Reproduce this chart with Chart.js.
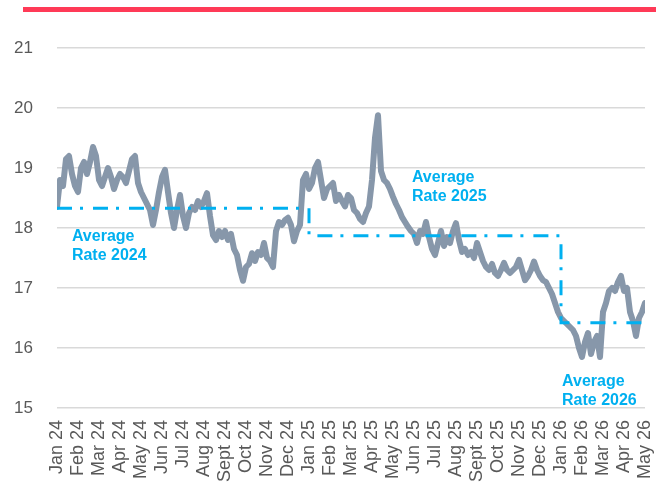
<!DOCTYPE html>
<html>
<head>
<meta charset="utf-8">
<script src="https://cdn.jsdelivr.net/npm/chart.js@4/dist/chart.umd.min.js"></script>
<style>
  html, body { margin: 0; padding: 0; background: #fff; }
  #wrap { position: relative; width: 656px; height: 489px; }
  #topBar { position: absolute; left: 23px; top: 7px; width: 633px; height: 5px; background: #ff3a57; }
  canvas { position: absolute; left: 0; top: 0; }
</style>
</head>
<body>
<div id="wrap">
  <div id="topBar"></div>
  <canvas id="rateChart" width="656" height="489"></canvas>
</div>
<script>
// month tick labels, one per month from Jan 24 to May 26
const monthLabels = [
  'Jan 24', 'Feb 24', 'Mar 24', 'Apr 24', 'May 24', 'Jun 24', 'Jul 24', 'Aug 24',
  'Sept 24', 'Oct 24', 'Nov 24', 'Dec 24', 'Jan 25', 'Feb 25', 'Mar 25', 'Apr 25',
  'May 25', 'Jun 25', 'Jul 25', 'Aug 25', 'Sept 25', 'Oct 25', 'Nov 25', 'Dec 25',
  'Jan 26', 'Feb 26', 'Mar 26', 'Apr 26', 'May 26'
];

// rate readings, 7 per month
const pointsPerMonth = 7;
const rateValues = [
  18.35, 18.8, 18.7, 19.15, 19.2, 18.9, 18.7, 18.6, 19.0, 19.1,
  18.9, 19.1, 19.35, 19.2, 18.8, 18.7, 18.85, 19.0, 18.85, 18.65,
  18.8, 18.9, 18.85, 18.75, 18.95, 19.15, 19.2, 18.75, 18.6, 18.5,
  18.4, 18.3, 18.05, 18.3, 18.6, 18.85, 18.97, 18.6, 18.25, 18.0,
  18.3, 18.55, 18.2, 18.0, 18.25, 18.35, 18.3, 18.45, 18.35, 18.45,
  18.58, 18.2, 17.88, 17.8, 17.95, 17.85, 17.95, 17.8, 17.9, 17.65,
  17.55, 17.3, 17.12, 17.35, 17.4, 17.58, 17.45, 17.6, 17.55, 17.75,
  17.5, 17.45, 17.35, 17.95, 18.1, 18.05, 18.13, 18.17, 18.05, 17.78,
  17.95, 18.05, 18.8, 18.9, 18.65, 18.75, 19.0, 19.1, 18.8, 18.5,
  18.65, 18.7, 18.75, 18.45, 18.55, 18.45, 18.36, 18.55, 18.5, 18.3,
  18.25, 18.15, 18.1, 18.25, 18.36, 18.8, 19.5, 19.88, 18.95, 18.8,
  18.75, 18.65, 18.52, 18.4, 18.3, 18.18, 18.1, 18.02, 17.95, 17.9,
  17.75, 17.95, 17.9, 18.1, 17.85, 17.65, 17.55, 17.75, 17.95, 17.7,
  17.85, 17.75, 17.95, 18.08, 17.8, 17.6, 17.65, 17.55, 17.6, 17.5,
  17.75, 17.6, 17.45, 17.35, 17.3, 17.4, 17.25, 17.2, 17.3, 17.42,
  17.3, 17.25, 17.3, 17.35, 17.47, 17.3, 17.13, 17.2, 17.3, 17.44,
  17.3, 17.2, 17.13, 17.1, 17.0, 16.9, 16.75, 16.6, 16.5, 16.45,
  16.4, 16.35, 16.3, 16.2, 16.0, 15.85, 16.1, 16.25, 15.9, 16.1,
  16.2, 15.85, 16.6, 16.75, 16.95, 17.0, 16.95, 17.1, 17.2, 16.95,
  17.0, 16.6, 16.45, 16.2, 16.5, 16.6, 16.75
];

// yearly averages: start month index (on the axis) and level
const avgYears = ['2024', '2025', '2026'];
const avgStartMonth = [0, 12, 24];
const avgRates = [18.33, 17.87, 16.42];

// y axis
const yMin = 15;
const yMax = 21;

// where the "Average Rate" notes sit (axis units)
const notePos = [
  { x: 0.71, y: 17.855 },
  { x: 16.9, y: 18.84 },
  { x: 24.05, y: 15.44 }
];

const lineColor = '#8797aa';
const avgColor = '#00b0f0';

const ratePoints = rateValues.map((v, i) => ({ x: i / pointsPerMonth, y: v }));

// step line for the averages
const avgPoints = [];
const lastMonth = monthLabels.length - 1;
avgRates.forEach((rate, i) => {
  const end = i < avgRates.length - 1 ? avgStartMonth[i + 1] : lastMonth;
  avgPoints.push({ x: avgStartMonth[i], y: rate });
  avgPoints.push({ x: end, y: rate });
});

const notesPlugin = {
  id: 'notes',
  afterDatasetsDraw(chart) {
    const { ctx, scales } = chart;
    ctx.save();
    ctx.fillStyle = avgColor;
    ctx.font = 'bold 16px "Liberation Sans", Arial, sans-serif';
    ctx.textAlign = 'left';
    ctx.textBaseline = 'middle';
    avgYears.forEach((year, i) => {
      const px = scales.x.getPixelForValue(notePos[i].x);
      const py = scales.y.getPixelForValue(notePos[i].y);
      ctx.fillText('Average', px, py);
      ctx.fillText('Rate ' + year, px, py + 19);
    });
    ctx.restore();
  }
};

new Chart(document.getElementById('rateChart'), {
  type: 'line',
  data: {
    datasets: [
      {
        label: 'Average',
        data: avgPoints,
        borderColor: avgColor,
        borderWidth: 3,
        borderDash: [15, 8, 3, 10],
        pointRadius: 0,
        tension: 0,
        fill: false
      },
      {
        label: 'Rate',
        data: ratePoints,
        borderColor: lineColor,
        borderWidth: 6,
        borderJoinStyle: 'round',
        borderCapStyle: 'round',
        pointRadius: 0,
        tension: 0,
        fill: false
      }
    ]
  },
  options: {
    responsive: false,
    animation: false,
    layout: { padding: { top: 48, right: 0, left: 0, bottom: 0 } },
    plugins: {
      legend: { display: false },
      tooltip: { enabled: false }
    },
    scales: {
      x: {
        type: 'linear',
        min: 0,
        max: lastMonth,
        grid: { display: false },
        border: { display: false },
        afterBuildTicks: (s) => {
          s.ticks = monthLabels.map((_, i) => ({ value: i }));
        },
        afterFit: (s) => {
          s.height = 81;
          s.paddingLeft = 0;
          s.paddingRight = 11;
        },
        ticks: {
          autoSkip: false,
          maxRotation: 90,
          minRotation: 90,
          padding: 4,
          color: '#595959',
          font: { family: '"Liberation Sans", Arial, sans-serif', size: 18 },
          callback: (v) => monthLabels[v]
        }
      },
      y: {
        min: yMin,
        max: yMax,
        grid: { color: '#d9d9d9', lineWidth: 1.5, drawTicks: false },
        border: { display: false },
        afterFit: (s) => { s.width = 57; },
        ticks: {
          stepSize: 1,
          padding: 24,
          color: '#595959',
          font: { family: '"Liberation Sans", Arial, sans-serif', size: 17 }
        }
      }
    }
  },
  plugins: [notesPlugin]
});
</script>
</body>
</html>
